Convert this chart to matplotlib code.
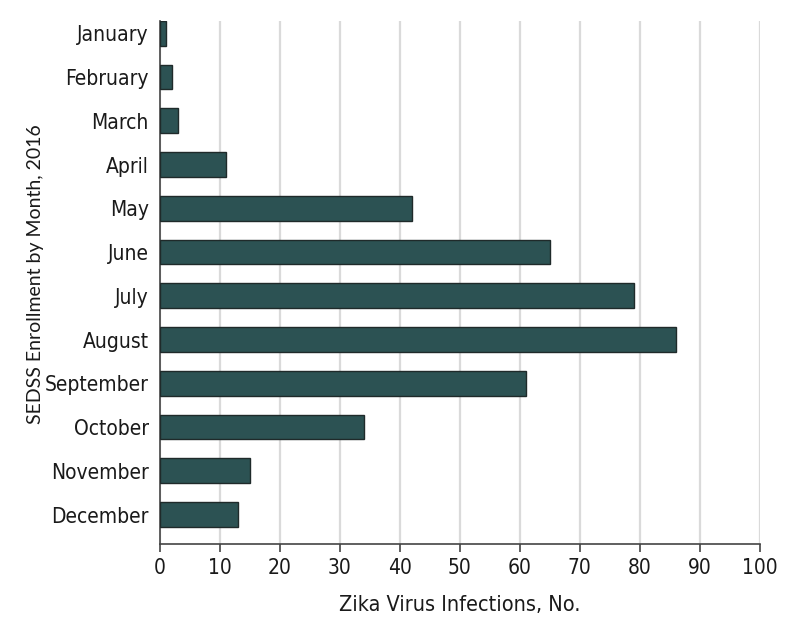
import matplotlib
matplotlib.use('Agg')
import matplotlib.pyplot as plt

months = ['January', 'February', 'March', 'April', 'May', 'June',
          'July', 'August', 'September', 'October', 'November', 'December']
infections = [1, 2, 3, 11, 42, 65, 79, 86, 61, 34, 15, 13]
xticks = [0, 10, 20, 30, 40, 50, 60, 70, 80, 90, 100]

# condensed face of DejaVu Sans for the tick labels
tick_kw = dict(family='DejaVu Sans', stretch='condensed', fontsize=15)

fig = plt.figure(figsize=(7.94, 6.29), dpi=100)
ax = fig.add_axes([0.2015, 0.1351, 0.7552, 0.8315])

pos = list(range(len(months)))
ax.barh(pos, infections, height=0.565, color='#2c5253',
        edgecolor='#1f2a2a', linewidth=1.0, zorder=3)

ax.set_xlim(0, 100)
ax.set_ylim(11.674, -0.28)
ax.set_xticks(xticks)
ax.set_yticks(pos)
ax.set_yticklabels(months, **tick_kw)
ax.set_xticklabels([str(t) for t in xticks], **tick_kw)

ax.grid(axis='x', color='#dadada', linewidth=1.6, zorder=0)
ax.set_axisbelow(True)
for s in ['top', 'right']:
    ax.spines[s].set_visible(False)
for s in ['left', 'bottom']:
    ax.spines[s].set_color('#444444')
    ax.spines[s].set_linewidth(1.2)

ax.tick_params(axis='y', length=0, pad=8, colors='#1a1a1a')
ax.tick_params(axis='x', length=6, width=1.2, color='#444444', pad=4,
               labelcolor='#1a1a1a')

ax.set_xlabel('Zika Virus Infections, No.', family='DejaVu Sans',
              stretch='condensed', fontsize=15.5, color='#1a1a1a', labelpad=12)
ax.set_ylabel('SEDSS Enrollment by Month, 2016', family=['Lato', 'DejaVu Sans'],
              fontsize=14, color='#1a1a1a')
ax.yaxis.set_label_coords(-0.193, 0.516)

fig.savefig('out.png', dpi=100)
